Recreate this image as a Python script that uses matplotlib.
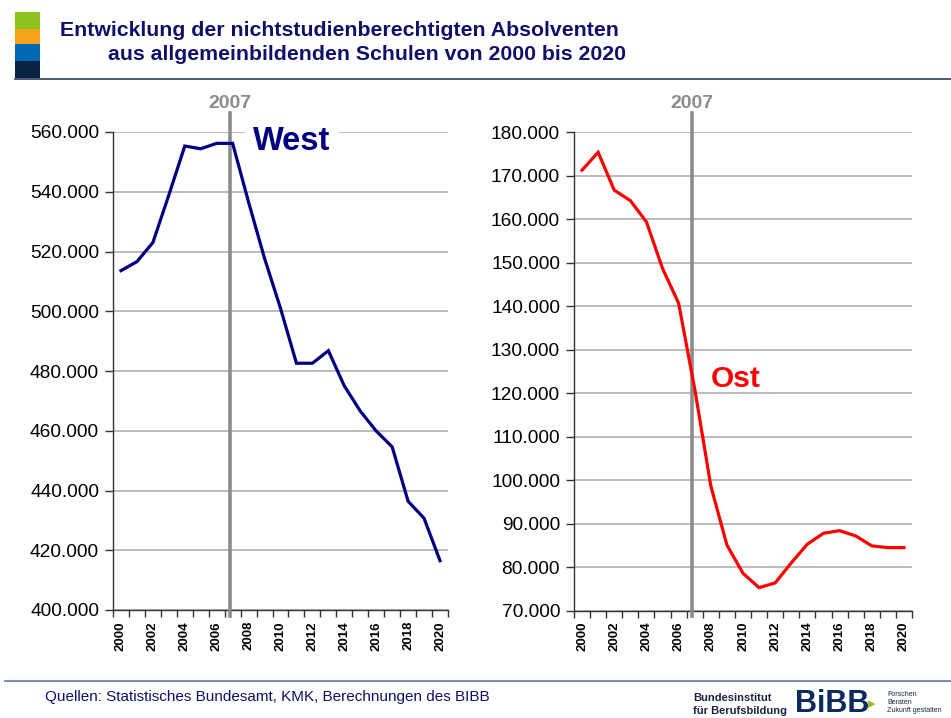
import matplotlib
matplotlib.use('Agg')
import matplotlib.pyplot as plt
from matplotlib.ticker import FuncFormatter, FixedLocator
from matplotlib.patches import Rectangle
from matplotlib.lines import Line2D

plt.rcParams['font.family'] = ['Liberation Sans', 'DejaVu Sans']

# data
years = list(range(2000, 2021))
west = [513600, 516600, 523000, 538900, 555300, 554400, 556200, 556200,
        536500, 517700, 501000, 482600, 482600, 486800, 475000, 466600,
        459900, 454600, 436400, 430700, 416500]
ost = [171300, 175400, 166700, 164300, 159400, 148700, 140700, 121000,
       98700, 85100, 78600, 75300, 76400, 81000, 85300, 87800,
       88400, 87200, 84900, 84500, 84500]
mark_year = 2007
title = ("Entwicklung der nichtstudienberechtigten Absolventen",
         "aus allgemeinbildenden Schulen von 2000 bis 2020")
source = "Quellen: Statistisches Bundesamt, KMK, Berechnungen des BIBB"

NAVY = '#000080'
GRID = '#a8a8a8'


def thousands(v, pos):
    return f"{v:,.0f}".replace(',', '.')


def draw(ax, values, color, ylim, ystep, name, name_xy, name_size, boxed):
    ax.set_xlim(years[0] - 0.5, years[-1] + 0.5)
    ax.set_ylim(*ylim)
    yt = list(range(ylim[0], ylim[1] + 1, ystep))
    ax.set_yticks(yt)
    ax.yaxis.set_major_formatter(FuncFormatter(thousands))
    ax.grid(axis='y', color=GRID, linewidth=1.1)
    ax.set_axisbelow(True)
    # category ticks between years, labels on even years
    ax.xaxis.set_major_locator(FixedLocator([y - 0.5 for y in years] + [years[-1] + 0.5]))
    ax.xaxis.set_major_formatter(FuncFormatter(lambda v, p: ''))
    ax.xaxis.set_minor_locator(FixedLocator([y for y in years if y % 2 == 0]))
    ax.xaxis.set_minor_formatter(FuncFormatter(lambda v, p: f"{int(round(v))}"))
    ax.tick_params(axis='x', which='major', length=5, width=1, color='#333333')
    ax.tick_params(axis='x', which='minor', length=0, pad=8, labelsize=9.5,
                   labelrotation=90)
    for lab in ax.get_xticklabels(minor=True):
        lab.set_fontweight('bold')
    ax.tick_params(axis='y', length=6, width=1, color='#333333', labelsize=13.8, pad=4)
    for s in ('top', 'right'):
        ax.spines[s].set_visible(False)
    for s in ('left', 'bottom'):
        ax.spines[s].set_color('#333333')
        ax.spines[s].set_linewidth(1)
    ax.axvline(mark_year - 0.17, ymin=-0.012, ymax=1.04, color='#8c8c8c',
               linewidth=2.6, clip_on=False, zorder=4)
    ax.text(mark_year - 0.17, 1.06, str(mark_year), transform=ax.get_xaxis_transform(),
            ha='center', va='center', fontsize=14, fontweight='bold', color='#8c8c8c')
    ax.plot(years, values, color=color, linewidth=2.3, zorder=5, solid_joinstyle='miter')
    box = dict(facecolor='white', edgecolor='none', pad=6) if boxed else None
    ax.text(name_xy[0], name_xy[1], name, transform=ax.get_xaxis_transform(),
            ha='left', va='center', fontsize=name_size, fontweight='bold', color=color,
            zorder=6, bbox=box)


fig = plt.figure(figsize=(9.51, 7.18), dpi=100)
fig.patch.set_facecolor('white')

ax1 = fig.add_axes([113 / 951, 1 - 610 / 718, 335 / 951, 478 / 718])
ax2 = fig.add_axes([574 / 951, 1 - 610.7 / 718, 338 / 951, 478.4 / 718])

draw(ax1, west, NAVY, (400000, 560000), 20000, 'West', (2008.3, 0.98), 23.5, True)
draw(ax2, ost, '#ff0000', (70000, 180000), 10000, 'Ost', (2008.0, 0.485), 21.5, False)

# header
bar = [('#8dc21f', 12, 29), ('#f5a31a', 29, 44), ('#0068b4', 44, 61), ('#0b2342', 61, 78)]
for c, y0, y1 in bar:
    fig.patches.append(Rectangle((15 / 951, 1 - y1 / 718), 25 / 951, (y1 - y0) / 718,
                                 transform=fig.transFigure, facecolor=c, edgecolor='none'))
fig.text(60 / 951, 1 - 30 / 718, title[0], fontsize=15.3, fontweight='bold',
         color='#10106a', ha='left', va='center')
fig.text(108 / 951, 1 - 55 / 718, title[1], fontsize=15.3, fontweight='bold',
         color='#10106a', ha='left', va='center')
fig.lines.append(Line2D([15 / 951, 1], [1 - 79 / 718] * 2, transform=fig.transFigure,
                        color='#2c3b5e', linewidth=1.2))

# footer
fig.lines.append(Line2D([5 / 951, 1], [1 - 681 / 718] * 2, transform=fig.transFigure,
                        color='#8090a8', linewidth=1.5))
fig.text(45 / 951, 1 - 697 / 718, source, fontsize=11, color='#10106a',
         ha='left', va='center')
fig.text(693 / 951, 1 - 698 / 718, "Bundesinstitut", fontsize=8, fontweight='bold',
         color='#1a2540', ha='left', va='center')
fig.text(693 / 951, 1 - 711 / 718, "für Berufsbildung", fontsize=8, fontweight='bold',
         color='#1a2540', ha='left', va='center')
fig.text(795 / 951, 1 - 704 / 718, "BiBB", fontsize=22, fontweight='bold',
         color='#0b2a5e', ha='left', va='center')
fig.text(868 / 951, 1 - 704 / 718, "\u25b8", fontsize=11, color='#8dc21f',
         ha='left', va='center', family=['DejaVu Sans'])
for i, w in enumerate(["Forschen", "Beraten", "Zukunft gestalten"]):
    fig.text(887 / 951, 1 - (694 + i * 8.5) / 718, w, fontsize=5, color='#1a2540',
             ha='left', va='center')

fig.savefig('out.png', dpi=100, facecolor='white')
